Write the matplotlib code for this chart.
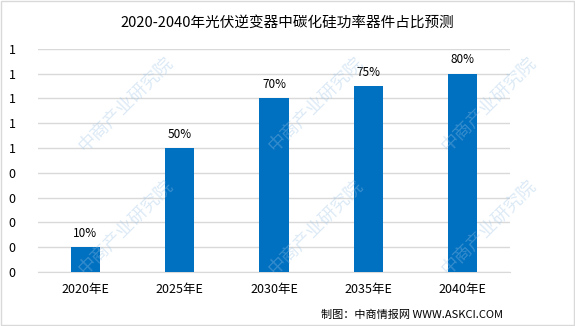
import matplotlib.pyplot as plt
import numpy as np

plt.rcParams['font.family'] = ['Noto Sans CJK SC', 'DejaVu Sans']

years = ['2020年E', '2025年E', '2030年E', '2035年E', '2040年E']
share = [0.10, 0.50, 0.70, 0.75, 0.80]
labels = ['10%', '50%', '70%', '75%', '80%']
yticks = [0, 0.1, 0.2, 0.3, 0.4, 0.5, 0.6, 0.7, 0.8, 0.9]
ytick_labels = ['0', '0', '0', '0', '0', '1', '1', '1', '1', '1']

fig = plt.figure(figsize=(5.75, 3.26), dpi=100)
ax = fig.add_axes([0.066, 0.166, 0.821, 0.684])

x = np.arange(len(years))
ax.bar(x, share, width=0.31, color='#0070C0', zorder=3)
for xi, v, lab in zip(x, share, labels):
    ax.text(xi, v + 0.03, lab, ha='center', va='bottom', fontsize=8.5, zorder=4)

ax.set_xlim(-0.5, len(years) - 0.5)
ax.set_ylim(0, 0.9)
ax.set_yticks(yticks)
ax.set_yticklabels(ytick_labels, fontsize=9)
ax.set_xticks(x)
ax.set_xticklabels(years, fontsize=9)
ax.tick_params(axis='both', length=0)
ax.tick_params(axis='y', pad=16)
ax.tick_params(axis='x', pad=8)
ax.grid(axis='y', color='#D9D9D9', linewidth=1, zorder=0)
for s in ['top', 'right', 'left']:
    ax.spines[s].set_visible(False)
ax.spines['bottom'].set_color('#D9D9D9')

fig.text(0.5, 0.93, '2020-2040年光伏逆变器中碳化硅功率器件占比预测',
         ha='center', va='center', fontsize=10.5)
fig.text(0.875, 0.035, '制图：中商情报网 WWW.ASKCI.COM', ha='right', va='center',
         fontsize=8)

# watermark
for wx, wy in [(0.22, 0.68), (0.55, 0.68), (0.85, 0.68),
               (0.22, 0.3), (0.55, 0.3), (0.85, 0.3)]:
    fig.text(wx, wy, '中商产业研究院', rotation=45, fontsize=13, color='#9CC3E6',
             alpha=0.35, ha='center', va='center', zorder=0)

fig.patches.append(plt.Rectangle((0.001, 0.002), 0.997, 0.995, transform=fig.transFigure,
                                 fill=False, edgecolor='#D9D9D9', linewidth=1))

fig.savefig('out.png', dpi=100)
